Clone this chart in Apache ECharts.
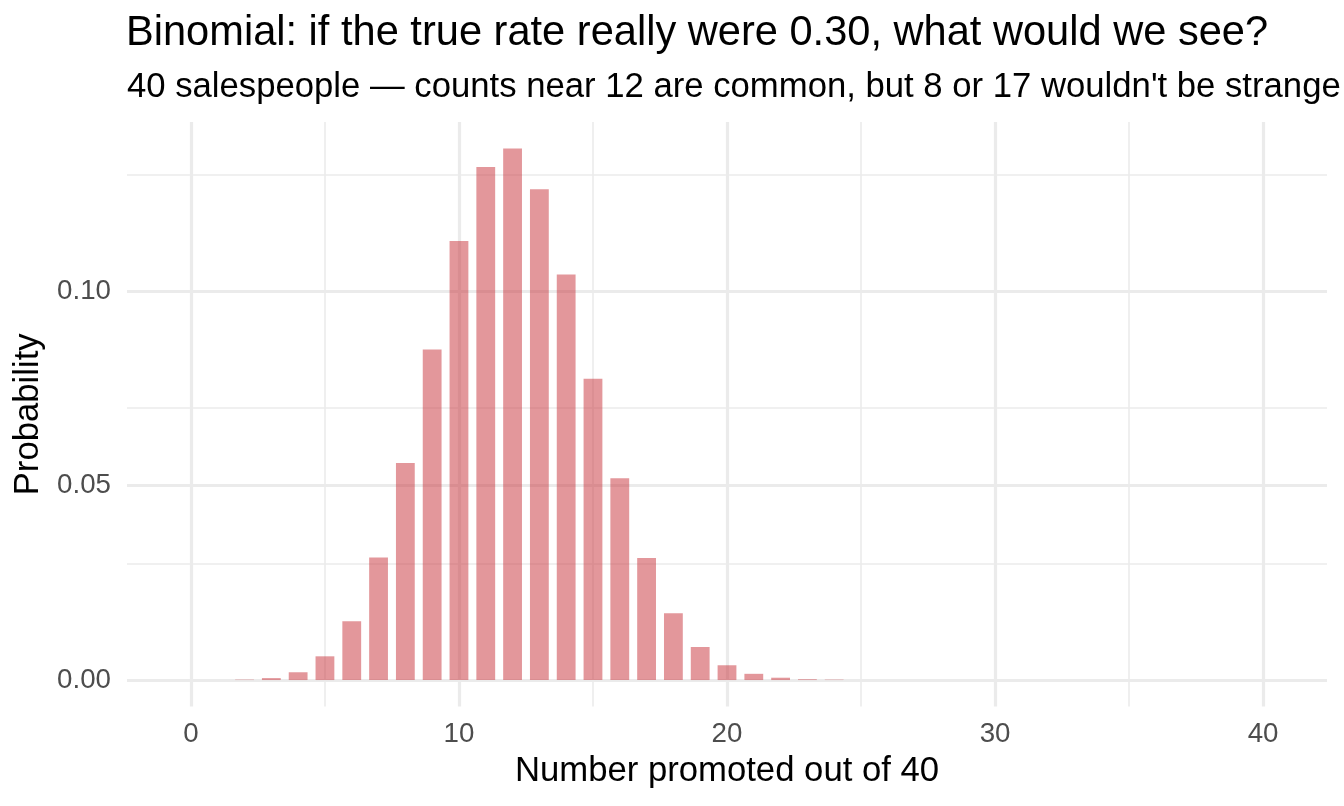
<!DOCTYPE html>
<html>
<head>
<meta charset="utf-8">
<script src="https://cdn.jsdelivr.net/npm/echarts@6/dist/echarts.min.js"></script>
<style>
html, body { margin: 0; padding: 0; background: #ffffff; }
#chart { width: 1344px; height: 806px; }
</style>
</head>
<body>
<div id="chart"></div>
<script>
// ---- data ----
const counts = [0,1,2,3,4,5,6,7,8,9,10,11,12,13,14,15,16,17,18,19,20,21,22,23,24,25,26,27,28,29,30,31,32,33,34,35,36,37,38,39,40];
const probabilities = [
  0.0000, 0.0000, 0.0001, 0.0005, 0.0020, 0.0061, 0.0151, 0.0315, 0.0558, 0.0850,
  0.1129, 0.1319, 0.1367, 0.1262, 0.1043, 0.0775, 0.0519, 0.0314, 0.0172, 0.0085,
  0.0038, 0.0016, 0.0006, 0.0002, 0.0001, 0.0000, 0.0000, 0.0000, 0.0000, 0.0000,
  0.0000, 0.0000, 0.0000, 0.0000, 0.0000, 0.0000, 0.0000, 0.0000, 0.0000, 0.0000,
  0.0000
];
const xMajorTicks = [0, 10, 20, 30, 40];
const xMinorTicks = [5, 15, 25, 35];
const yMajorTicks = [0, 0.05, 0.10];
const yMinorTicks = [0.025, 0.075, 0.125];

const titleText = 'Binomial: if the true rate really were 0.30, what would we see?';
const subtitleText = '40 salespeople \u2014 counts near 12 are common, but 8 or 17 wouldn\'t be strange';
const xTitle = 'Number promoted out of 40';
const yTitle = 'Probability';

// ---- chart ----
const FONT = '"Liberation Sans", Arial, Helvetica, sans-serif';
const GRID_COLOR = '#ebebeb';
const chart = echarts.init(document.getElementById('chart'), null, { renderer: 'canvas' });

const gridLines = [];
xMajorTicks.forEach(v => gridLines.push({ xAxis: v, lineStyle: { color: GRID_COLOR, width: 3.2, type: 'solid' } }));
xMinorTicks.forEach(v => gridLines.push({ xAxis: v, lineStyle: { color: GRID_COLOR, width: 1.6, type: 'solid' } }));
yMajorTicks.forEach(v => gridLines.push({ yAxis: v, lineStyle: { color: GRID_COLOR, width: 3.2, type: 'solid' } }));
yMinorTicks.forEach(v => gridLines.push({ yAxis: v, lineStyle: { color: GRID_COLOR, width: 1.6, type: 'solid' } }));

const option = {
  backgroundColor: '#ffffff',
  animation: false,
  textStyle: { fontFamily: FONT },
  title: [
    {
      text: titleText,
      left: 126, top: 13,
      padding: 0,
      textStyle: { fontFamily: FONT, fontSize: 41.6, fontWeight: 'normal', color: '#000000' }
    },
    {
      text: subtitleText,
      left: 127, top: 69.5,
      padding: 0,
      textStyle: { fontFamily: FONT, fontSize: 34.7, fontWeight: 'normal', color: '#000000' }
    }
  ],
  grid: { left: 127, right: 17, top: 122, bottom: 99.4, containLabel: false },
  xAxis: {
    type: 'value',
    min: -2.385, max: 42.385,
    splitNumber: 5,
    name: xTitle,
    nameLocation: 'middle',
    nameGap: 47,
    nameTextStyle: { fontFamily: FONT, fontSize: 34.7, color: '#000000' },
    axisLine: { show: false },
    axisTick: { show: false },
    splitLine: { show: false },
    axisLabel: {
      showMinLabel: false, showMaxLabel: false,
      margin: 14,
      fontFamily: FONT, fontSize: 27.7, color: '#4d4d4d',
      formatter: v => (xMajorTicks.indexOf(Math.round(v)) >= 0 && Math.abs(v - Math.round(v)) < 1e-9) ? String(Math.round(v)) : ''
    }
  },
  yAxis: {
    type: 'value',
    min: -0.00683, max: 0.1435,
    splitNumber: 3,
    name: yTitle,
    nameLocation: 'middle',
    nameGap: 80,
    nameTextStyle: { fontFamily: FONT, fontSize: 34.7, color: '#000000' },
    axisLine: { show: false },
    axisTick: { show: false },
    splitLine: { show: false },
    axisLabel: {
      showMinLabel: false, showMaxLabel: false,
      margin: 16,
      fontFamily: FONT, fontSize: 27.7, color: '#4d4d4d',
      formatter: v => {
        const r = Math.round(v * 100) / 100;
        return (Math.abs(v - r) < 1e-9 && yMajorTicks.some(t => Math.abs(t - r) < 1e-9)) ? r.toFixed(2) : '';
      }
    }
  },
  series: [
    {
      type: 'line',
      name: 'grid',
      data: [],
      silent: true,
      z: 1,
      markLine: {
        z: 1,
        silent: true,
        symbol: ['none', 'none'],
        label: { show: false },
        emphasis: { disabled: true },
        animation: false,
        data: gridLines
      }
    },
    {
      type: 'bar',
      name: 'Probability',
      z: 3,
      barWidth: 18.8,
      itemStyle: { color: 'rgba(199, 47, 55, 0.5)' },
      data: counts.map((k, i) => [k, probabilities[i]])
    }
  ]
};
chart.setOption(option);
</script>
</body>
</html>
